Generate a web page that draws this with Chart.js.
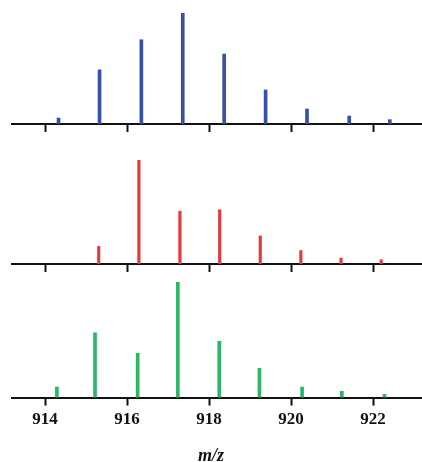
<!DOCTYPE html>
<html>
<head>
<meta charset="utf-8">
<script src="https://cdn.jsdelivr.net/npm/chart.js@4/dist/chart.umd.min.js"></script>
<style>
  html, body { margin: 0; padding: 0; background: #ffffff; }
  #wrap { position: relative; width: 422px; height: 462px; }
  .pane { position: absolute; left: 0; width: 422px; }
  #title { position: absolute; left: 0; width: 422px; top: 445px; text-align: center;
           font: italic bold 18px "Liberation Serif", serif; color: #111; line-height: 20px; }
</style>
</head>
<body>
<div id="wrap">
  <div class="pane" style="top:0px;height:140px"><canvas id="c1"></canvas></div>
  <div class="pane" style="top:140px;height:140px"><canvas id="c2"></canvas></div>
  <div class="pane" style="top:270px;height:164px"><canvas id="c3"></canvas></div>
  <div id="title">m/z</div>
</div>
<script>
// m/z tick labels
const tickValues = [914, 916, 918, 920, 922];

// Panel 1 (blue)
const blueMz  = [914.33, 915.33, 916.35, 917.36, 918.37, 919.38, 920.39, 921.42, 922.41];
const blueInt = [5.4, 48.8, 75.9, 100, 63.0, 30.7, 13.5, 7.2, 3.9];

// Panel 2 (red)
const redMz  = [915.31, 916.29, 917.29, 918.26, 919.25, 920.24, 921.22, 922.20];
const redInt = [16.9, 100, 50.8, 52.1, 27.0, 13.0, 5.7, 4.1];

// Panel 3 (green)
const greenMz  = [914.29, 915.22, 916.26, 917.24, 918.25, 919.23, 920.27, 921.24, 922.28];
const greenInt = [9.2, 56.0, 38.2, 100, 48.6, 25.3, 9.2, 5.5, 2.9];

function makeChart(id, mz, inten, color, thick, padTop, padBottom, showLabels) {
  const data = mz.map((x, i) => ({ x: x, y: inten[i] }));
  return new Chart(document.getElementById(id), {
    type: 'bar',
    data: { datasets: [{ data: data, backgroundColor: color, borderWidth: 0,
                          barThickness: thick, grouped: false }] },
    options: {
      responsive: true, maintainAspectRatio: false, animation: false,
      layout: { padding: { left: 12, right: 0, top: padTop, bottom: padBottom } },
      plugins: { legend: { display: false }, tooltip: { enabled: false } },
      scales: {
        x: {
          type: 'linear', min: 913.195, max: 923.195, offset: false,
          afterBuildTicks: s => { s.ticks = tickValues.map(v => ({ value: v })); },
          grid: { offset: false, drawOnChartArea: false, drawTicks: true, tickLength: 8,
                  tickWidth: 2, tickColor: '#111', color: '#111' },
          border: { display: true, color: '#111', width: 2 },
          ticks: { display: showLabels, color: '#111', padding: 4,
                   maxRotation: 0, autoSkip: false,
                   font: { family: '"Liberation Serif", serif', weight: 'bold', size: 17 } }
        },
        y: { display: false, min: 0, max: 100 }
      }
    }
  });
}

makeChart('c1', blueMz, blueInt, '#3550a6', 3, 13, 8, false);
makeChart('c2', redMz, redInt, '#e8383a', 2.5, 20, 8, false);
makeChart('c3', greenMz, greenInt, '#2db566', 3, 12, 0, true);
</script>
</body>
</html>
